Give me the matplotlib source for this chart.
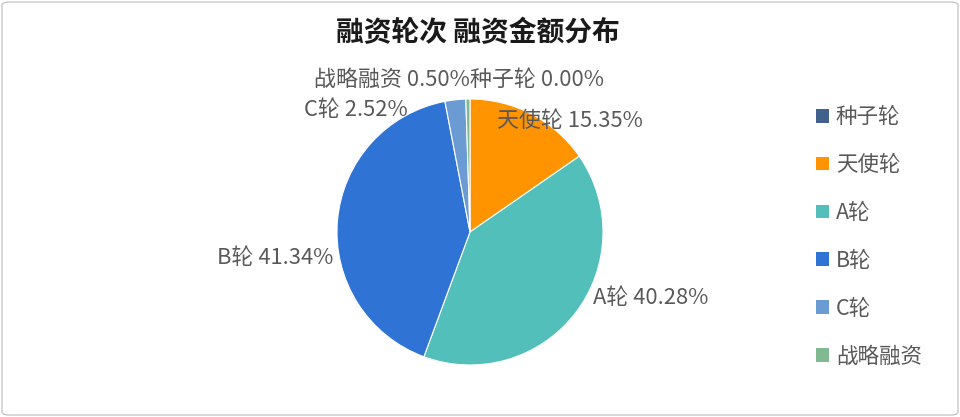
import matplotlib
matplotlib.use("Agg")
import matplotlib.pyplot as plt
from matplotlib.patches import Patch, FancyBboxPatch

plt.rcParams['font.family'] = ['Noto Sans CJK SC', 'DejaVu Sans']

# data
rounds = ['种子轮', '天使轮', 'A轮', 'B轮', 'C轮', '战略融资']
shares = [0.00, 15.35, 40.28, 41.34, 2.52, 0.50]
colors = ['#41618c', '#ff9300', '#52bfba', '#2f74d5', '#6b9bd3', '#80b992']

# label placement (axes data units, pie radius = 1)
label_pos = [(0.0, 1.14, 'left'), (0.20, 0.835, 'left'), (0.925, -0.50, 'left'),
             (-1.03, -0.195, 'right'), (-0.47, 0.92, 'right'), (0.0, 1.14, 'right')]

W, H = 960, 417
fig = plt.figure(figsize=(W / 100, H / 100), dpi=100)

# rounded border
fig.patches.append(FancyBboxPatch((2 / W, 2 / H), 1 - 4 / W, 1 - 4 / H,
                                  boxstyle="round,pad=0,rounding_size=0.008",
                                  transform=fig.transFigure, facecolor='white',
                                  edgecolor='#c9c9c9', linewidth=1.0, zorder=-1))

cx, cy, r = 470, 232, 133
ax = fig.add_axes([(cx - r) / W, (H - cy - r) / H, 2 * r / W, 2 * r / H])
ax.pie(shares, colors=colors, startangle=90, counterclock=False, radius=1,
       wedgeprops=dict(edgecolor='white', linewidth=0.8))
ax.set_xlim(-1, 1)
ax.set_ylim(-1, 1)
ax.set_aspect('equal')
ax.axis('off')

for name, val, (lx, ly, ha) in zip(rounds, shares, label_pos):
    ax.text(lx, ly, f'{name} {val:.2f}%', ha=ha, va='center', fontsize=15.8,
            color='#595959', clip_on=False)

fig.text(478 / W, 1 - 33 / H, '融资轮次 融资金额分布', ha='center', va='center',
         fontsize=20, fontweight='bold', color='#1a1a1a')

handles = [Patch(facecolor=c, edgecolor='none') for c in colors]
fig.legend(handles, rounds, loc='upper left', bbox_to_anchor=(797 / W, 1 - 87 / H),
           frameon=False, fontsize=15.5, handlelength=0.6, handleheight=0.6,
           handletextpad=0.3, labelspacing=1.2, labelcolor='#595959')

fig.savefig('out.png', dpi=100)
